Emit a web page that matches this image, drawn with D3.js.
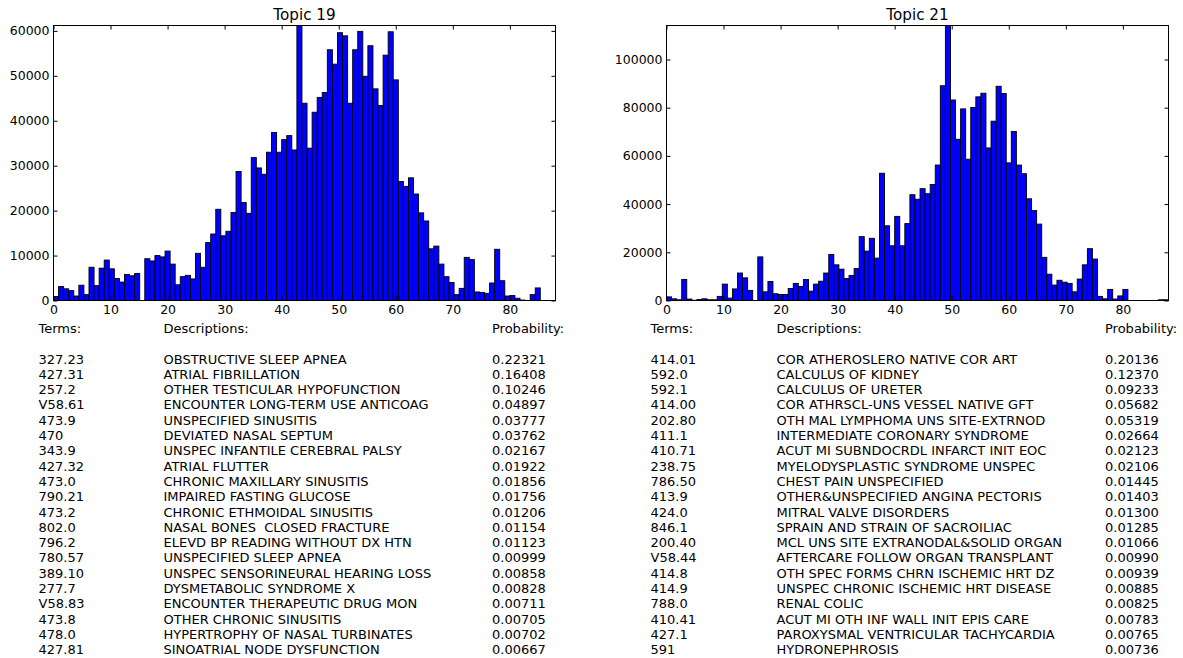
<!DOCTYPE html>
<html>
<head>
<meta charset="utf-8">
<script src="https://cdn.jsdelivr.net/npm/d3@7"></script>
<style>
  body { margin: 0; background: #fff; }
  text { font-family: 'DejaVu Sans', sans-serif; fill: #000; white-space: pre; }
</style>
</head>
<body>
<svg id="chart" width="1183" height="658"></svg>
<script>
// histogram bins: 99 equal bins over 0..88
const xMax = 88
const binCount = 99
const xTicks = [0, 10, 20, 30, 40, 50, 60, 70, 80]

const counts19 = [
  890, 3100, 2600, 2200, 1000, 3400, 1300, 7400, 3300, 7200,
  9000, 7050, 4900, 4100, 5800, 5500, 6000, 0, 9300, 8800,
  10000, 9700, 11000, 8100, 3500, 5300, 5600, 4800, 10500, 7400,
  12900, 14800, 20300, 14400, 15400, 19600, 28700, 21800, 19400, 31800,
  29500, 28100, 33000, 37400, 33000, 35800, 36700, 33500, 61200, 43900,
  33900, 41900, 45200, 46300, 55800, 52600, 59600, 58900, 43900, 55800,
  59900, 49900, 56700, 47100, 43400, 54600, 59800, 49100, 26500, 25400,
  27300, 23700, 19500, 17700, 11500, 12100, 8100, 5300, 4000, 1300,
  2700, 9600, 9100, 1900, 1800, 1600, 3900, 11400, 4400, 1000,
  1100, 500, 100, 0, 1300, 2800, 0, 0, 0
]
const counts21 = [
  1500, 700, 300, 8700, 600, 100, 400, 700, 300, 300,
  1700, 6800, 1000, 4800, 11400, 9400, 4200, 0, 18100, 3600,
  7900, 2800, 2500, 2500, 5000, 7100, 5800, 8700, 3900, 6800,
  8000, 11400, 19100, 14800, 13000, 9100, 10400, 13300, 26500, 20500,
  25800, 17600, 52800, 31000, 22700, 34900, 22700, 31900, 43900, 42000,
  46400, 44300, 48100, 56200, 89100, 114100, 83200, 66900, 79500, 58600,
  80100, 84500, 86000, 63300, 74400, 88900, 85900, 57100, 70100, 56200,
  52600, 42200, 37300, 31700, 17900, 10900, 6400, 8400, 7600, 7100,
  3600, 8900, 14800, 21500, 17200, 1700, 700, 4600, 600, 1900,
  4600, 0, 0, 0, 0, 0, 0, 300, 300
]
const yTicks19 = [0, 10000, 20000, 30000, 40000, 50000, 60000]
const yTicks21 = [0, 20000, 40000, 60000, 80000, 100000]

const headers = ['Terms:', 'Descriptions:', 'Probability:']

const terms19 = ['327.23', '427.31', '257.2', 'V58.61', '473.9', '470', '343.9', '427.32', '473.0', '790.21',
  '473.2', '802.0', '796.2', '780.57', '389.10', '277.7', 'V58.83', '473.8', '478.0', '427.81']
const desc19 = ['OBSTRUCTIVE SLEEP APNEA', 'ATRIAL FIBRILLATION', 'OTHER TESTICULAR HYPOFUNCTION',
  'ENCOUNTER LONG-TERM USE ANTICOAG', 'UNSPECIFIED SINUSITIS', 'DEVIATED NASAL SEPTUM',
  'UNSPEC INFANTILE CEREBRAL PALSY', 'ATRIAL FLUTTER', 'CHRONIC MAXILLARY SINUSITIS',
  'IMPAIRED FASTING GLUCOSE', 'CHRONIC ETHMOIDAL SINUSITIS', 'NASAL BONES  CLOSED FRACTURE',
  'ELEVD BP READING WITHOUT DX HTN', 'UNSPECIFIED SLEEP APNEA', 'UNSPEC SENSORINEURAL HEARING LOSS',
  'DYSMETABOLIC SYNDROME X', 'ENCOUNTER THERAPEUTIC DRUG MON', 'OTHER CHRONIC SINUSITIS',
  'HYPERTROPHY OF NASAL TURBINATES', 'SINOATRIAL NODE DYSFUNCTION']
const prob19 = ['0.22321', '0.16408', '0.10246', '0.04897', '0.03777', '0.03762', '0.02167', '0.01922', '0.01856', '0.01756',
  '0.01206', '0.01154', '0.01123', '0.00999', '0.00858', '0.00828', '0.00711', '0.00705', '0.00702', '0.00667']

const terms21 = ['414.01', '592.0', '592.1', '414.00', '202.80', '411.1', '410.71', '238.75', '786.50', '413.9',
  '424.0', '846.1', '200.40', 'V58.44', '414.8', '414.9', '788.0', '410.41', '427.1', '591']
const desc21 = ['COR ATHEROSLERO NATIVE COR ART', 'CALCULUS OF KIDNEY', 'CALCULUS OF URETER',
  'COR ATHRSCL-UNS VESSEL NATIVE GFT', 'OTH MAL LYMPHOMA UNS SITE-EXTRNOD', 'INTERMEDIATE CORONARY SYNDROME',
  'ACUT MI SUBNDOCRDL INFARCT INIT EOC', 'MYELODYSPLASTIC SYNDROME UNSPEC', 'CHEST PAIN UNSPECIFIED',
  'OTHER&UNSPECIFIED ANGINA PECTORIS', 'MITRAL VALVE DISORDERS', 'SPRAIN AND STRAIN OF SACROILIAC',
  'MCL UNS SITE EXTRANODAL&SOLID ORGAN', 'AFTERCARE FOLLOW ORGAN TRANSPLANT', 'OTH SPEC FORMS CHRN ISCHEMIC HRT DZ',
  'UNSPEC CHRONIC ISCHEMIC HRT DISEASE', 'RENAL COLIC', 'ACUT MI OTH INF WALL INIT EPIS CARE',
  'PAROXYSMAL VENTRICULAR TACHYCARDIA', 'HYDRONEPHROSIS']
const prob21 = ['0.20136', '0.12370', '0.09233', '0.05682', '0.05319', '0.02664', '0.02123', '0.02106', '0.01445', '0.01403',
  '0.01300', '0.01285', '0.01066', '0.00990', '0.00939', '0.00885', '0.00825', '0.00783', '0.00765', '0.00736']

const panels = [
  { title: 'Topic 19', counts: counts19, yTicks: yTicks19, left: 53.5, cols: [38.5, 163.5, 492], columns: [terms19, desc19, prob19] },
  { title: 'Topic 21', counts: counts21, yTicks: yTicks21, left: 666.5, cols: [650.5, 776.5, 1105], columns: [terms21, desc21, prob21] }
]

const svg = d3.select('#chart')
svg.append('rect').attr('width', 1183).attr('height', 658).attr('fill', '#fff')

const plotW = 502 // axes width
const plotTop = 25.5
const plotBottom = 300.5
const binW = xMax / binCount

panels.forEach(p => {
  const x = d3.scaleLinear().domain([0, xMax]).range([p.left, p.left + plotW])
  const y = d3.scaleLinear().domain([0, d3.max(p.counts)]).range([plotBottom, plotTop])
  const g = svg.append('g')

  // bars
  g.append('g').selectAll('rect').data(p.counts).join('rect')
    .attr('x', (d, i) => x(i * binW))
    .attr('width', (d, i) => x((i + 1) * binW) - x(i * binW))
    .attr('y', d => y(d))
    .attr('height', d => plotBottom - y(d))
    .attr('fill', '#0000ff')
    .attr('stroke', '#000')
    .attr('stroke-width', 0.9)

  // axes, ticks pointing inward on all four sides
  const axisStyle = sel => {
    sel.select('.domain').remove()
    sel.attr('font-size', 12.5).attr('font-family', 'DejaVu Sans')
    sel.selectAll('.tick line').attr('stroke', '#000')
  }
  g.append('g').attr('transform', `translate(0,${plotBottom})`)
    .call(d3.axisBottom(x).tickValues(xTicks).tickSizeInner(-4).tickSizeOuter(0).tickPadding(5))
    .call(axisStyle)
  g.append('g').attr('transform', `translate(0,${plotTop})`)
    .call(d3.axisTop(x).tickValues(xTicks).tickSizeInner(-4).tickSizeOuter(0).tickFormat(''))
    .call(axisStyle)
  g.append('g').attr('transform', `translate(${p.left},0)`)
    .call(d3.axisLeft(y).tickValues(p.yTicks).tickSizeInner(-4).tickSizeOuter(0).tickPadding(4).tickFormat(d3.format('d')))
    .call(axisStyle)
  g.append('g').attr('transform', `translate(${p.left + plotW},0)`)
    .call(d3.axisRight(y).tickValues(p.yTicks).tickSizeInner(-4).tickSizeOuter(0).tickFormat(''))
    .call(axisStyle)

  // frame
  g.append('rect')
    .attr('x', p.left).attr('y', plotTop)
    .attr('width', plotW).attr('height', plotBottom - plotTop)
    .attr('fill', 'none').attr('stroke', '#000').attr('stroke-width', 1)

  // title
  g.append('text')
    .attr('x', p.left + plotW / 2).attr('y', 20)
    .attr('text-anchor', 'middle')
    .attr('font-size', 15.2)
    .text(p.title)

  // table of top terms
  const tbl = svg.append('g').attr('font-size', 13)
  headers.forEach((h, c) => {
    tbl.append('text').attr('x', p.cols[c]).attr('y', 333).text(h)
  })
  p.columns.forEach((col, c) => {
    tbl.append('g').selectAll('text').data(col).join('text')
      .attr('x', p.cols[c])
      .attr('y', (d, i) => 363.5 + i * 15.3)
      .text(d => d)
  })
})
</script>
</body>
</html>
